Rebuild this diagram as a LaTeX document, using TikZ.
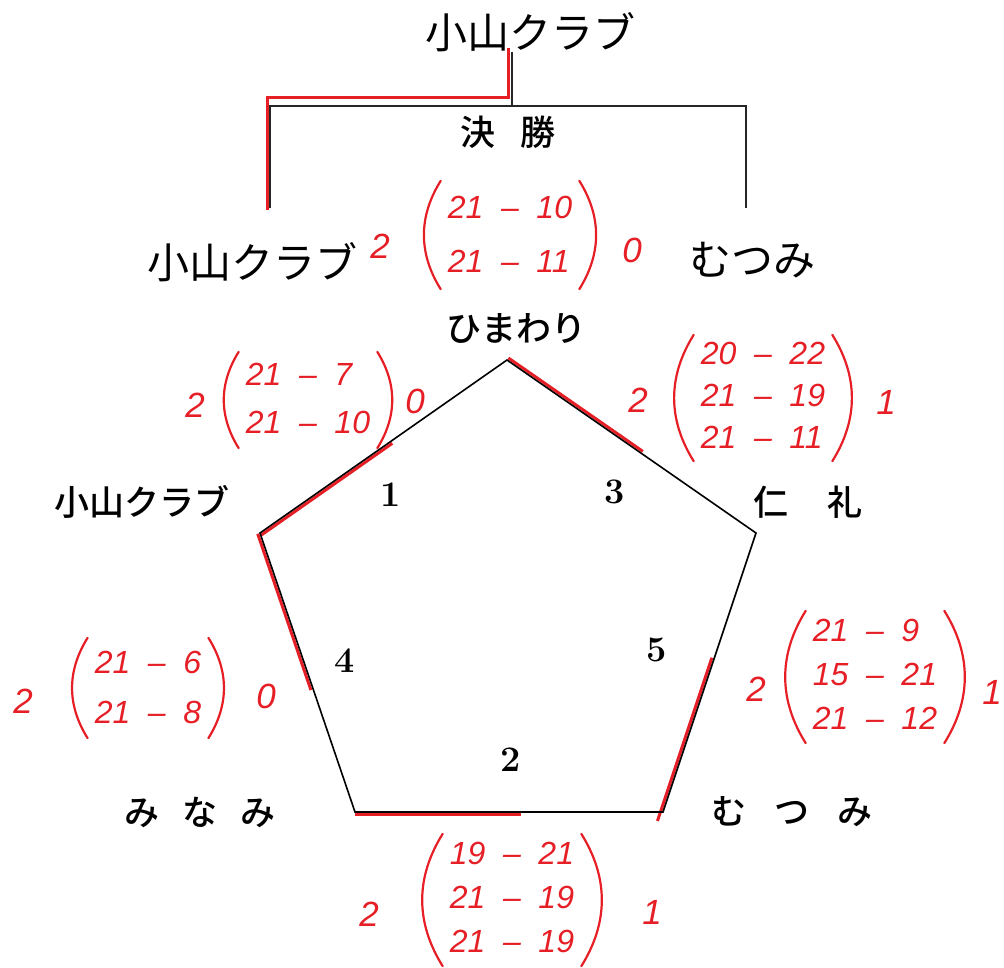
\documentclass[tikz,border=0pt]{standalone}
\usepackage{fontspec}
\usetikzlibrary{calc}
\newfontfamily\jpfont{Noto Sans CJK JP}
\newfontfamily\jpbold{Noto Sans CJK JP Medium}
\newfontfamily\handfont{Liberation Sans}
\definecolor{PenRed}{RGB}{230,30,38}
\tikzset{
  side/.style={line width=1.6pt,draw=black,line join=miter},
  winline/.style={line width=3pt,draw=PenRed},
  bracket/.style={line width=2.6pt,draw=black!85},
  team/.style={font=\jpbold\fontsize{35}{35}\selectfont,inner sep=0pt},
  handname/.style={font=\jpfont\fontsize{42}{42}\selectfont,inner sep=0pt},
  gamenum/.style={font=\fontsize{36}{36}\selectfont\bfseries,inner sep=0pt},
  rows/.style={text=PenRed,font=\handfont\itshape\fontsize{32}{40}\selectfont,inner sep=0pt},
  tally/.style={text=PenRed,font=\handfont\itshape\fontsize{35}{35}\selectfont,inner sep=0pt},
  paren/.style={line width=2.2pt,draw=PenRed,line cap=round}
}
\newcommand{\scorerows}[2]{\renewcommand{\arraystretch}{#1}\begin{tabular}{@{}r@{\hspace{0.55em}–\hspace{0.55em}}l@{}}#2\end{tabular}}
\newcommand{\parens}[1]{%
  \draw[paren] ([xshift=-7pt]#1.north west) to[bend right=32] ([xshift=-7pt]#1.south west);
  \draw[paren] ([xshift=7pt]#1.north east) to[bend left=32] ([xshift=7pt]#1.south east);}

\begin{document}
\begin{tikzpicture}[x=1pt,y=-1pt]
  \useasboundingbox (0,0) rectangle (1004,968);
  % final bracket
  \node[handname] (champion) at (530,32) {小山クラブ};
  \node[team] (final) at (508,132) {決\hspace{0.7em}勝};
  \node[handname] (finalL) at (252,262) {小山クラブ};
  \node[handname] (finalR) at (752,260) {むつみ};
  \coordinate (bt) at (512,52);
  \coordinate (bm) at (512,106);
  \coordinate (bl) at (270,208);
  \coordinate (br) at (746,208);
  \draw[winline] ($(bl)+(-3,2)$) |- ($(bm)+(-4,-8)$) -- ($(bt)+(-4,-4)$);
  \draw[bracket] (bl) |- (bm) -| (br);
  \draw[bracket] (bt) -- (bm);
  \node[rows] (mfinal) at (510,235) {\scorerows{1.35}{21 & 10\\ 21 & 11}};
  \node[tally] (wfinal) at (380,246) {2};
  \node[tally] (lfinal) at (632,250) {0};
  \parens{mfinal}
  % league pentagon
  \coordinate (himawari) at (507,360);
  \coordinate (jinrei) at (756,533);
  \coordinate (mutsumi) at (663,812);
  \coordinate (minami) at (355,812);
  \coordinate (koyama) at (260,533);
  \draw[winline] ($(koyama)+(1.4,2)$) -- ($(koyama)!0.53!(himawari)+(1.4,2)$);
  \draw[winline] ($(koyama)+(-2.3,0.8)$) -- ($(koyama)!0.56!(minami)+(-2.3,0.8)$);
  \draw[winline] ($(himawari)+(1.4,-2)$) -- ($(himawari)!0.54!(jinrei)+(1.4,-2)$);
  \draw[winline] ($(mutsumi)!-0.035!(jinrei)+(-2.3,-0.8)$) -- ($(mutsumi)!0.55!(jinrei)+(-2.3,-0.8)$);
  \draw[winline] ($(minami)+(0,2.4)$) -- ($(minami)!0.54!(mutsumi)+(0,2.4)$);
  \draw[side] (himawari) -- (jinrei) -- (mutsumi) -- (minami) -- (koyama) -- cycle;
  \node[team] (lhimawari) at (516,328) {ひまわり};
  \node[team] (lkoyama) at (142,502) {小山クラブ};
  \node[team] (ljinrei) at (808,502) {仁\hspace{1.1em}礼};
  \node[team] (lminami) at (200,812) {み\hspace{0.65em}な\hspace{0.65em}み};
  \node[team] (lmutsumi) at (792,812) {む\hspace{0.8em}つ\hspace{0.8em}み};
  \node[gamenum] (g1) at (391,495) {1};
  \node[gamenum] (g3) at (615,492) {3};
  \node[gamenum] (g4) at (345,661) {4};
  \node[gamenum] (g5) at (657,650) {5};
  \node[gamenum] (g2) at (511,760) {2};
  % match scores
  \node[rows] (m1) at (308,400) {\scorerows{1.2}{21 & 7\\ 21 & 10}};
  \node[tally] (w1) at (195,405) {2};
  \node[tally] (l1) at (415,401) {0};
  \parens{m1}
  \node[rows] (m3) at (763,398) {\scorerows{1.05}{20 & 22\\ 21 & 19\\ 21 & 11}};
  \node[tally] (w3) at (638,400) {2};
  \node[tally] (l3) at (886,402) {1};
  \parens{m3}
  \node[rows] (m4) at (148,688) {\scorerows{1.25}{21 & 6\\ 21 & 8}};
  \node[tally] (w4) at (23,701) {2};
  \node[tally] (l4) at (266,696) {0};
  \parens{m4}
  \node[rows] (m5) at (875,677) {\scorerows{1.1}{21 & 9\\ 15 & 21\\ 21 & 12}};
  \node[tally] (w5) at (756,689) {2};
  \node[tally] (l5) at (992,692) {1};
  \parens{m5}
  \node[rows] (m2) at (512,900) {\scorerows{1.1}{19 & 21\\ 21 & 19\\ 21 & 19}};
  \node[tally] (w2) at (369,914) {2};
  \node[tally] (l2) at (652,912) {1};
  \parens{m2}
\end{tikzpicture}
\end{document}
